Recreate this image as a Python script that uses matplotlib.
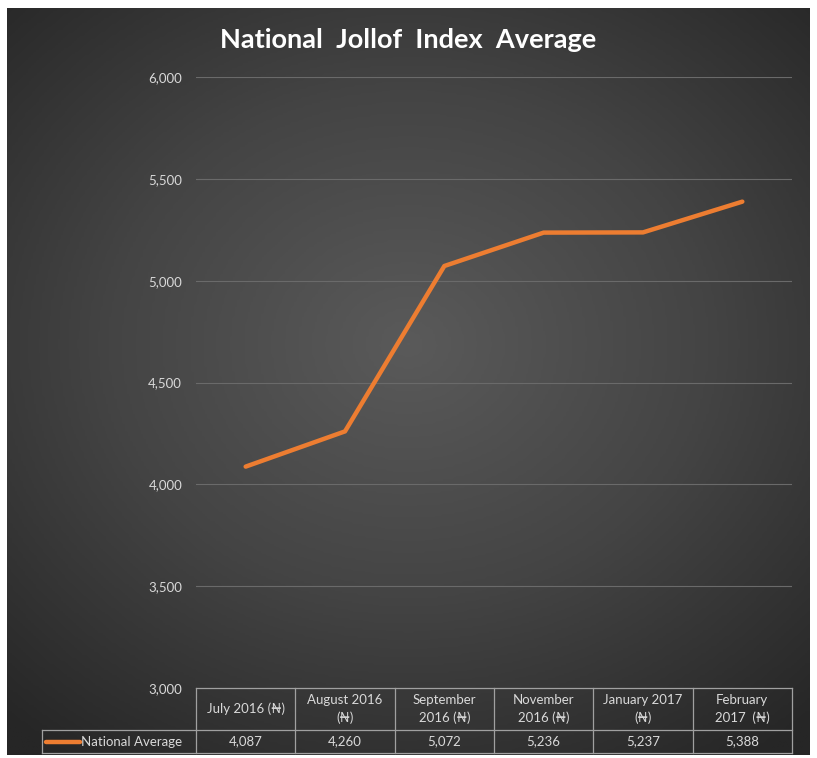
import numpy as np
import matplotlib.pyplot as plt

# data
months = ['July 2016 (₦)', 'August 2016\n(₦)', 'September\n2016 (₦)',
          'November\n2016 (₦)', 'January 2017\n(₦)', 'February\n2017  (₦)']
national_avg = [4087, 4260, 5072, 5236, 5237, 5388]
y_ticks = [3000, 3500, 4000, 4500, 5000, 5500, 6000]
series_name = 'National Average'

W, H = 817, 758
fonts = ['Lato', 'DejaVu Sans']
plt.rcParams['font.family'] = fonts
txt_col = '#d9d9d9'
orange = '#ED7D31'
grid_col = '#a0a0a0'

fig = plt.figure(figsize=(W / 100, H / 100), dpi=100)
fig.patch.set_facecolor('white')

# dark chart area with radial gradient
bg = fig.add_axes([7 / W, 1 - 755 / H, (810 - 7) / W, (755 - 8) / H])
yy, xx = np.mgrid[0:1:300j, 0:1:300j]
r = np.sqrt(((xx - 0.5) * 1.0) ** 2 + ((yy - 0.45) * 1.1) ** 2)
r = np.clip(r / 0.75, 0, 1)
bg.imshow(r, cmap=plt.matplotlib.colors.LinearSegmentedColormap.from_list(
    'g', ['#5a5a5a', '#444444', '#262626']), aspect='auto', extent=[0, 1, 0, 1],
    vmin=0, vmax=1)
bg.axis('off')

# main plot
ax = fig.add_axes([196 / W, 1 - 688 / H, (792 - 196) / W, (688 - 77) / H])
ax.patch.set_alpha(0)
x = np.arange(len(months))
ax.plot(x, national_avg, color=orange, lw=3.2, solid_joinstyle='round',
        solid_capstyle='round', zorder=3)
ax.set_xlim(-0.5, len(months) - 0.5)
ax.set_ylim(y_ticks[0], y_ticks[-1])
ax.set_yticks(y_ticks)
ax.set_yticklabels([f'{v:,}' for v in y_ticks], color=txt_col, fontsize=9.5)
ax.tick_params(axis='y', length=0, pad=10)
ax.set_xticks([])
for v in y_ticks[1:]:
    ax.axhline(v, color='#6a6a6a', lw=0.8, zorder=1)
for s in ax.spines.values():
    s.set_visible(False)

fig.text(0.5, 1 - 40 / H, 'National  Jollof  Index  Average', color='white',
         fontsize=19.5, fontweight='bold', ha='center', va='center')

# data table under the plot
tab = fig.add_axes([196 / W, 1 - 753 / H, (792 - 196) / W, (753 - 688) / H])
tab.patch.set_alpha(0)
tab.set_xlim(-0.5, len(months) - 0.5)
tab.set_ylim(0, 65)
tab.axis('off')
left = -0.5 - 154 / ((792 - 196) / len(months))
row_split = 23
kw = dict(color=grid_col, lw=0.9, clip_on=False)
tab.plot([-0.5, len(months) - 0.5], [65, 65], **kw)
tab.plot([left, len(months) - 0.5], [row_split, row_split], **kw)
tab.plot([left, len(months) - 0.5], [0, 0], **kw)
tab.plot([left, left], [0, row_split], **kw)
for i in range(len(months) + 1):
    tab.plot([i - 0.5, i - 0.5], [0, 65], **kw)
for i, (m, v) in enumerate(zip(months, national_avg)):
    tab.text(i, (65 + row_split) / 2, m, ha='center', va='center',
             color=txt_col, fontsize=9.5, linespacing=1.5)
    tab.text(i, row_split / 2, f'{v:,}', ha='center', va='center',
             color=txt_col, fontsize=9.5)
tab.plot([left + 0.04, left + 0.38], [row_split / 2, row_split / 2],
         color=orange, lw=3.2, solid_capstyle='round', clip_on=False)
tab.text(left + 0.39, row_split / 2, series_name, ha='left', va='center',
         color=txt_col, fontsize=9.5)

fig.savefig('out.png', dpi=100)
